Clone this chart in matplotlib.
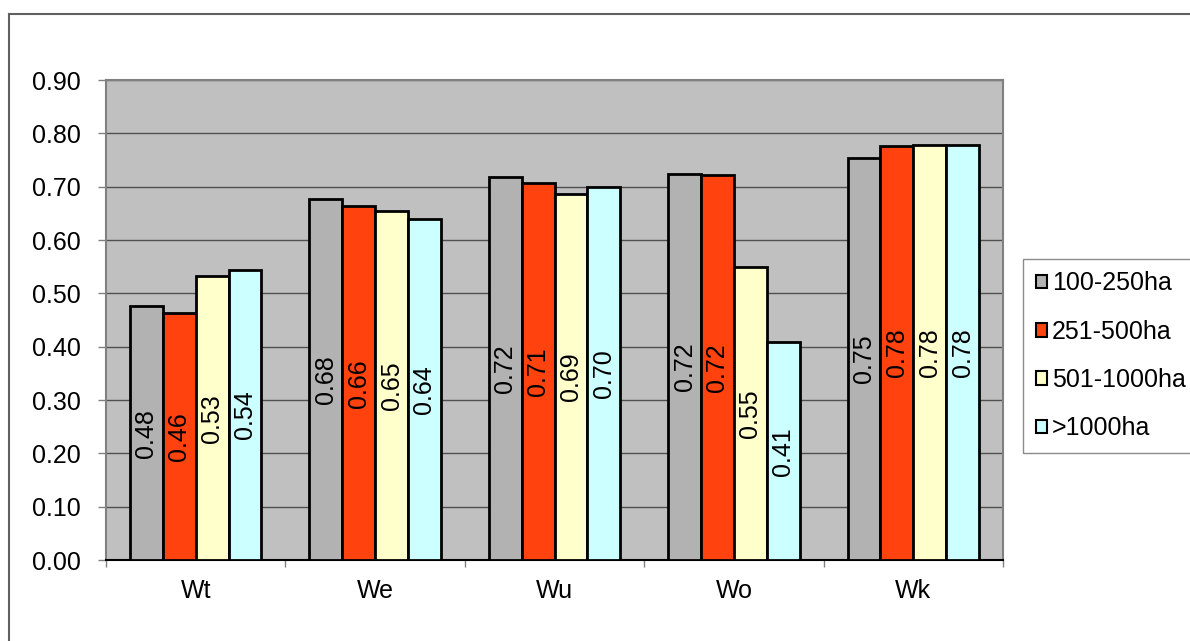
import matplotlib
matplotlib.use("Agg")
import matplotlib.pyplot as plt
from matplotlib.lines import Line2D
from matplotlib.patches import Patch
import numpy as np

plt.rcParams['font.family'] = ['Liberation Sans', 'DejaVu Sans']

categories = ["Wt", "We", "Wu", "Wo", "Wk"]
series_names = ["100-250ha", "251-500ha", "501-1000ha", ">1000ha"]
v_100_250 = [0.476, 0.677, 0.718, 0.724, 0.754]
v_251_500 = [0.464, 0.663, 0.707, 0.721, 0.776]
v_501_1000 = [0.532, 0.654, 0.686, 0.550, 0.779]
v_over_1000 = [0.544, 0.640, 0.700, 0.408, 0.778]
series_values = [v_100_250, v_251_500, v_501_1000, v_over_1000]
colors = ["#B2B2B2", "#FF420E", "#FFFFCC", "#CCFFFF"]
y_ticks = [0.0, 0.1, 0.2, 0.3, 0.4, 0.5, 0.6, 0.7, 0.8, 0.9]

FS = 18

fig = plt.figure(figsize=(11.9, 6.41), dpi=100)
ax = fig.add_axes([106 / 1190, 81 / 641, 897 / 1190, 480 / 641])
ax.set_facecolor("#C0C0C0")

x = np.arange(len(categories))
bar_w = 0.183
offsets = (np.arange(4) - 1.5) * bar_w
for vals, col, off in zip(series_values, colors, offsets):
    bars = ax.bar(x + off, vals, width=bar_w, color=col, edgecolor="black",
                  linewidth=2, zorder=3)
    for b, v in zip(bars, vals):
        ax.text(b.get_x() + b.get_width() / 2, v / 2, f"{v:.2f}",
                rotation=90, ha="center", va="center", fontsize=FS,
                color="black", zorder=4)

ax.set_xlim(-0.5, len(categories) - 0.5)
ax.set_ylim(0, 0.9)
ax.set_yticks(y_ticks)
ax.set_yticklabels([f"{t:.2f}" for t in y_ticks], fontsize=FS)
ax.yaxis.grid(True, color="#505050", linewidth=1, zorder=1)
ax.set_axisbelow(True)

ax.set_xticks(x)
ax.set_xticklabels(categories, fontsize=FS)
ax.tick_params(axis="x", length=0, pad=14)
ax.set_xticks(np.arange(len(categories) + 1) - 0.5, minor=True)
ax.tick_params(axis="x", which="minor", length=5, color="#808080", width=1)
ax.tick_params(axis="y", length=6, color="#808080", width=1, pad=12)

for side in ("top", "right"):
    ax.spines[side].set_color("#808080")
    ax.spines[side].set_linewidth(1.5)
ax.spines["left"].set_color("#808080")
ax.spines["left"].set_linewidth(1.5)
ax.spines["bottom"].set_color("black")
ax.spines["bottom"].set_linewidth(1.5)

handles = [Patch(facecolor=c, edgecolor="black", linewidth=1.5) for c in colors]
leg = fig.legend(handles, series_names, loc="upper left",
                 bbox_to_anchor=(1023 / 1190, 1 - 259 / 641),
                 fontsize=FS, frameon=True, fancybox=False,
                 handlelength=0.45, handleheight=0.45, handletextpad=0.2,
                 labelspacing=0.97, borderpad=0.5, borderaxespad=0)
leg.get_frame().set_edgecolor("#707070")
leg.get_frame().set_linewidth(1)

# outer frame (top and left edges)
fig.add_artist(Line2D([9 / 1190, 1.0], [1 - 14 / 641, 1 - 14 / 641],
                      transform=fig.transFigure, color="#606060", linewidth=1.5))
fig.add_artist(Line2D([9 / 1190, 9 / 1190], [0.0, 1 - 14 / 641],
                      transform=fig.transFigure, color="#606060", linewidth=1.5))

fig.savefig("out.png", dpi=100)
